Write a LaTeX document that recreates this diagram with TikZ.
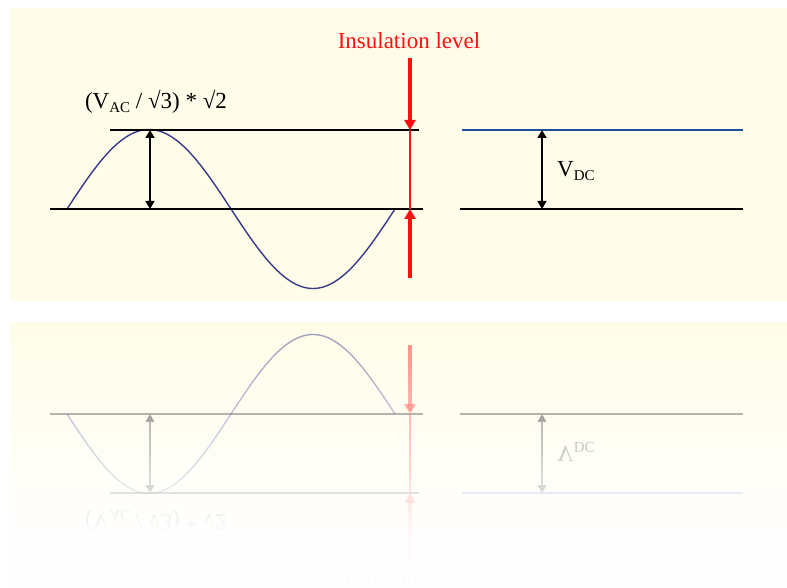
\documentclass[tikz,border=0pt]{standalone}
\usepackage{fontspec}
\setmainfont{Liberation Serif}
\usetikzlibrary{arrows.meta}
\definecolor{creambg}{RGB}{255,253,233}
\definecolor{sinecol}{RGB}{58,58,138}
\definecolor{dcblue}{RGB}{28,78,158}
\definecolor{insred}{RGB}{255,16,16}
\tikzset{
  hline/.style={line width=1.6pt, black},
  dcline/.style={line width=1.6pt, dcblue},
  sineline/.style={line width=1.4pt, sinecol},
  dimarrow/.style={line width=1.6pt, black, {Triangle[length=8pt,width=9pt]}-{Triangle[length=8pt,width=9pt]}},
  redthick/.style={line width=3.2pt, insred, -{Triangle[length=10pt,width=11pt]}},
  redthin/.style={line width=1.3pt, insred},
  lbl/.style={inner sep=0pt, font=\fontsize{23}{25}\selectfont},
  redlbl/.style={inner sep=0pt, text=insred, font=\fontsize{23}{25}\selectfont},
}
\newcommand\lowsub[1]{\raisebox{-0.4ex}{\fontsize{15}{15}\selectfont #1}}
\newcommand\diagramcontent[1]{%
  % coordinates
  \coordinate (#1acTopL) at (110,130);
  \coordinate (#1acTopR) at (419,130);
  \coordinate (#1acBotL) at (50,209);
  \coordinate (#1acBotR) at (423,209);
  \coordinate (#1acPk) at (150,130);
  \coordinate (#1acZero) at (150,209);
  \coordinate (#1dcTopL) at (462,130);
  \coordinate (#1dcTopR) at (743,130);
  \coordinate (#1dcBotL) at (460,209);
  \coordinate (#1dcBotR) at (743,209);
  \coordinate (#1dcA) at (542,130);
  \coordinate (#1dcB) at (542,209);
  \coordinate (#1rTop) at (410,58);
  \coordinate (#1rHi) at (410,130);
  \coordinate (#1rLo) at (410,209);
  \coordinate (#1rBot) at (410,278);
  % sine wave
  \draw[sineline] plot[domain=0:360, samples=120, smooth] ({67+\x*0.911111}, {209-79.5*sin(\x)});
  % horizontal lines
  \draw[hline] (#1acTopL) -- (#1acTopR);
  \draw[hline] (#1acBotL) -- (#1acBotR);
  \draw[dcline] (#1dcTopL) -- (#1dcTopR);
  \draw[hline] (#1dcBotL) -- (#1dcBotR);
  % dimension arrows
  \draw[dimarrow] (#1acPk) -- (#1acZero);
  \draw[dimarrow] (#1dcA) -- (#1dcB);
  % insulation level
  \draw[redthin] (#1rHi) -- (#1rLo);
  \draw[redthick] (#1rTop) -- (#1rHi);
  \draw[redthick] (#1rBot) -- (#1rLo);
  % labels
  \node[lbl] (#1acLabel) at (156,102) {(V\lowsub{AC} / √3) * √2};
  \node[lbl, anchor=west] (#1dcLabel) at (557,171) {V\lowsub{DC}};
  \node[redlbl] (#1insLabel) at (409,41) {Insulation level};
}
\begin{document}
\begin{tikzpicture}[x=1pt, y=-1pt]
  \useasboundingbox (0,0) rectangle (787,588);
  \fill[white] (0,0) rectangle (787,588);
  % main panel
  \fill[creambg] (10,8) rectangle (787,301);
  \diagramcontent{m}
  % reflection
  \begin{scope}
    \clip (0,301) rectangle (787,588);
    \fill[creambg] (10,322) rectangle (787,588);
    \begin{scope}[shift={(0,623)}, yscale=-1, opacity=0.5, every node/.append style={transform shape}]
      \diagramcontent{r}
    \end{scope}
    \foreach \i in {0,...,59} {
      \pgfmathsetmacro\op{min(0.97,(\i+1)/50)}
      \pgfmathsetmacro\ya{322+\i*266/60}
      \pgfmathsetmacro\yb{322+(\i+1)*266/60}
      \fill[white, opacity=\op] (10,\ya) rectangle (787,\yb);
    }
  \end{scope}
\end{tikzpicture}
\end{document}
